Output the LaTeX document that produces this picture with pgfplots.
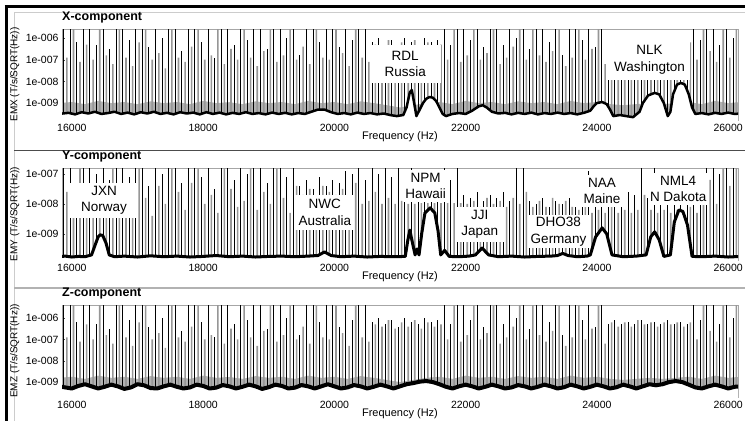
\documentclass[border=0pt]{standalone}
\usepackage{fontspec}
\setmainfont{Liberation Sans}
\usepackage{pgfplots}
\usepackage{pgfplotstable}
\pgfplotsset{compat=1.18}

% black spike lines (exponents of 10)
\pgfplotstableread{
f e
15875 -5.3
15975 -5.3
16075 -6.2
16175 -5.3
16275 -5.3
16375 -6.3
16475 -5.3
16575 -6.5
16675 -5.3
16775 -5.3
16875 -6.1
16975 -5.3
17075 -5.3
17175 -6.4
17275 -5.3
17375 -6.0
17475 -5.3
17575 -5.3
17675 -6.6
17775 -5.3
17875 -5.3
17975 -6.2
18075 -5.3
18175 -6.9
18275 -5.3
18375 -5.3
18475 -6.3
18575 -5.3
18675 -6.1
18775 -5.3
18875 -5.3
18975 -6.5
19075 -5.3
19175 -5.3
19275 -6.0
19375 -5.3
19475 -6.8
19575 -5.3
19675 -5.3
19775 -6.2
19875 -5.3
19975 -5.3
20075 -6.4
20175 -5.3
20275 -6.1
20375 -5.3
20475 -5.3
20575 -6.2
20675 -6.0
20775 -6.3
20875 -6.1
20975 -6.4
21075 -6.0
21175 -6.2
21275 -6.3
21375 -6.0
21475 -6.2
21575 -6.1
21675 -5.3
21775 -6.3
21875 -5.3
21975 -5.3
22075 -6.1
22175 -5.3
22275 -6.4
22375 -5.3
22475 -5.3
22575 -6.3
22675 -5.3
22775 -6.0
22875 -5.3
22975 -6.5
23075 -5.3
23175 -5.3
23275 -6.2
23375 -5.3
23475 -6.8
23575 -5.3
23675 -5.3
23775 -6.1
23875 -5.3
23975 -6.4
24075 -5.3
24175 -6.3
24275 -6.1
24375 -6.3
24475 -6.2
24575 -6.3
24675 -6.1
24775 -6.3
24875 -6.2
24975 -6.3
25075 -6.1
25175 -6.3
25275 -6.2
25375 -6.3
25475 -5.3
25575 -6.1
25675 -5.3
25775 -5.3
25875 -6.3
25975 -5.3
26075 -6.0
}\xzblack

% gray spike lines (exponents of 10)
\pgfplotstableread{
f e
15925 -6.9
16025 -5.3
16125 -7.1
16225 -6.3
16325 -7.0
16425 -5.3
16525 -6.8
16625 -7.2
16725 -5.3
16825 -6.9
16925 -7.3
17025 -6.2
17125 -5.3
17225 -7.0
17325 -6.7
17425 -7.4
17525 -5.3
17625 -6.9
17725 -7.1
17825 -6.4
17925 -5.3
18025 -7.0
18125 -6.8
18225 -5.3
18325 -7.2
18425 -6.5
18525 -7.0
18625 -5.3
18725 -6.9
18825 -7.3
18925 -6.6
19025 -5.3
19125 -7.1
19225 -6.8
19325 -5.3
19425 -7.0
19525 -6.4
19625 -7.2
19725 -5.3
19825 -6.9
19925 -7.0
20025 -5.3
20125 -6.7
20225 -7.3
20325 -5.3
20425 -6.9
20525 -7.1
20625 -6.3
20725 -6.4
20825 -6.1
20925 -6.5
21025 -6.2
21125 -6.4
21225 -6.1
21325 -6.5
21425 -6.2
21525 -6.4
21625 -6.3
21725 -7.0
21825 -5.3
21925 -7.1
22025 -6.8
22125 -5.3
22225 -7.0
22325 -6.7
22425 -5.3
22525 -7.2
22625 -6.9
22725 -6.4
22825 -5.3
22925 -7.0
23025 -5.3
23125 -6.8
23225 -7.1
23325 -6.6
23425 -5.3
23525 -7.3
23625 -6.9
23725 -5.3
23825 -7.0
23925 -6.5
24025 -5.3
24125 -7.2
24225 -6.2
24325 -6.4
24425 -6.2
24525 -6.4
24625 -6.1
24725 -6.3
24825 -6.2
24925 -6.4
25025 -6.2
25125 -6.3
25225 -6.2
25325 -6.4
25425 -6.2
25525 -7.0
25625 -5.3
25725 -6.6
25825 -7.1
25925 -5.3
26025 -6.9
26125 -5.3
}\xzgray

\pgfplotstableread{
f e
15875 -6.5
15975 -6.5
16075 -7.3
16175 -6.5
16275 -6.5
16375 -7.0
16475 -6.5
16575 -7.2
16675 -6.5
16775 -6.5
16875 -7.1
16975 -6.5
17075 -6.5
17175 -7.4
17275 -6.5
17375 -7.0
17475 -6.5
17575 -6.5
17675 -7.3
17775 -6.5
17875 -6.5
17975 -7.1
18075 -6.5
18175 -7.5
18275 -6.5
18375 -6.5
18475 -7.2
18575 -6.5
18675 -7.0
18775 -6.5
18875 -6.5
18975 -7.3
19075 -6.5
19175 -6.5
19275 -7.1
19375 -6.5
19475 -7.4
19575 -7.2
19675 -7.5
19775 -7.1
19875 -7.4
19975 -7.2
20075 -7.3
20175 -6.9
20275 -7.0
20375 -6.5
20475 -7.2
20575 -6.5
20675 -7.0
20775 -6.5
20875 -7.1
20975 -6.5
21075 -7.4
21175 -6.5
21275 -7.6
21375 -7.2
21475 -7.5
21575 -7.3
21675 -6.5
21775 -7.2
21875 -6.5
21975 -7.7
22075 -7.8
22175 -7.6
22275 -7.9
22375 -7.7
22475 -7.8
22575 -7.6
22675 -7.9
22775 -6.5
22875 -6.5
22975 -7.9
23075 -8.0
23175 -7.8
23275 -8.1
23375 -7.9
23475 -8.0
23575 -7.8
23675 -8.1
23775 -7.9
23875 -6.9
23975 -7.8
24075 -7.3
24175 -7.8
24275 -7.5
24375 -7.9
24475 -7.6
24575 -7.7
24675 -6.8
24775 -7.8
24875 -6.5
24975 -7.9
25075 -7.2
25175 -8.0
25275 -7.4
25375 -7.9
25475 -7.3
25575 -7.8
25675 -6.6
25775 -6.5
25875 -7.0
25975 -6.5
26075 -6.6
}\yblack

\pgfplotstableread{
f e
15925 -7.6
16025 -8.2
16125 -6.5
16225 -7.9
16325 -8.4
16425 -7.5
16525 -8.0
16625 -6.5
16725 -8.3
16825 -7.7
16925 -8.1
17025 -6.5
17125 -7.8
17225 -8.4
17325 -7.4
17425 -8.0
17525 -6.5
17625 -7.6
17725 -8.2
17825 -7.3
17925 -6.5
18025 -8.0
18125 -7.7
18225 -8.3
18325 -6.5
18425 -7.5
18525 -8.1
18625 -7.9
18725 -6.5
18825 -8.2
18925 -7.6
19025 -8.0
19125 -6.5
19225 -7.8
19325 -8.3
19425 -7.4
19525 -7.7
19625 -7.5
19725 -7.8
19825 -7.4
19925 -7.6
20025 -7.7
20125 -7.5
20225 -8.1
20325 -7.3
20425 -8.0
20525 -7.9
20625 -7.6
20725 -8.0
20825 -7.8
20925 -8.0
21025 -7.9
21125 -8.0
21225 -8.0
21325 -7.97
21425 -7.97
21525 -7.97
21625 -7.97
21725 -7.97
21825 -7.97
21925 -7.97
22025 -8.0
22125 -7.9
22225 -8.1
22325 -7.8
22425 -8.0
22525 -7.9
22625 -8.1
22725 -7.8
22825 -8.0
22925 -7.6
23025 -8.1
23125 -7.9
23225 -8.1
23325 -7.8
23425 -8.0
23525 -7.9
23625 -8.1
23725 -8.2
23825 -8.0
23925 -8.3
24025 -8.2
24125 -8.3
24225 -7.8
24325 -8.3
24425 -8.2
24525 -8.3
24625 -8.2
24725 -7.7
24825 -8.2
24925 -8.3
25025 -8.2
25125 -8.3
25225 -8.2
25325 -8.3
25425 -8.1
25525 -8.3
25625 -7.9
25725 -7.2
25825 -8.0
25925 -6.6
26025 -7.4
26125 -6.8
}\ygray

% noise floors (exponents of 10)
\pgfplotstableread{
f e
15700 -11
15800 -9.50
15950 -9.45
16050 -9.52
16150 -9.42
16250 -9.48
16350 -9.40
16450 -9.50
16550 -9.46
16650 -9.40
16750 -9.50
16850 -9.44
16950 -9.52
17050 -9.42
17150 -9.48
17250 -9.40
17350 -9.50
17450 -9.45
17550 -9.52
17650 -9.42
17750 -9.48
17850 -9.44
17950 -9.52
18050 -9.42
18150 -9.50
18250 -9.44
18350 -9.52
18450 -9.45
18550 -9.50
18650 -9.42
18750 -9.50
18850 -9.46
18950 -9.52
19050 -9.44
19150 -9.50
19250 -9.45
19350 -9.52
19450 -9.46
19550 -9.50
19650 -9.40
19750 -9.30
19850 -9.30
19950 -9.42
20050 -9.50
20150 -9.46
20250 -9.52
20350 -9.44
20450 -9.50
20550 -9.46
20650 -9.52
20750 -9.48
20850 -9.55
20950 -9.60
21050 -9.55
21100 -9.20
21150 -8.50
21180 -8.40
21210 -8.90
21250 -9.60
21300 -9.30
21350 -9.00
21400 -8.80
21450 -8.72
21500 -8.75
21550 -8.90
21600 -9.20
21650 -9.50
21700 -9.60
21800 -9.50
21900 -9.46
22000 -9.50
22100 -9.35
22200 -9.15
22260 -9.10
22320 -9.20
22400 -9.40
22500 -9.48
22600 -9.45
22700 -9.52
22800 -9.45
22900 -9.50
23000 -9.44
23100 -9.52
23200 -9.46
23300 -9.50
23400 -9.44
23500 -9.50
23600 -9.46
23700 -9.52
23800 -9.45
23900 -9.35
23950 -9.15
24000 -9.00
24080 -8.95
24150 -9.05
24200 -9.30
24250 -9.60
24350 -9.55
24450 -9.60
24550 -9.65
24650 -9.40
24700 -9.00
24780 -8.65
24880 -8.53
24950 -8.60
25020 -9.00
25080 -9.60
25120 -9.40
25160 -8.60
25220 -8.15
25280 -8.07
25340 -8.15
25400 -8.60
25450 -9.20
25500 -9.50
25600 -9.46
25700 -9.52
25800 -9.45
25900 -9.50
26000 -9.44
26100 -9.50
26200 -9.48
26300 -11
}\xfloor

\pgfplotstableread{
f e
15700 -11
15800 -9.76
15900 -9.74
16000 -9.77
16100 -9.75
16200 -9.76
16300 -9.70
16350 -9.40
16400 -9.10
16430 -9.03
16470 -9.05
16520 -9.30
16570 -9.70
16650 -9.76
16800 -9.74
17000 -9.77
17200 -9.73
17400 -9.76
17600 -9.74
17800 -9.77
18000 -9.75
18200 -9.72
18400 -9.76
18600 -9.74
18800 -9.77
19000 -9.75
19200 -9.74
19400 -9.76
19600 -9.74
19750 -9.72
19850 -9.60
19950 -9.72
20100 -9.76
20300 -9.74
20500 -9.77
20700 -9.75
20900 -9.76
21080 -9.75
21120 -9.20
21150 -8.87
21190 -9.30
21230 -9.70
21260 -9.50
21290 -9.70
21330 -9.00
21380 -8.30
21460 -8.13
21530 -8.30
21580 -8.90
21620 -9.70
21680 -9.55
21750 -9.75
21900 -9.76
22050 -9.74
22150 -9.70
22250 -9.47
22350 -9.70
22500 -9.76
22700 -9.74
22900 -9.77
23100 -9.75
23300 -9.74
23400 -9.72
23480 -9.65
23560 -9.72
23700 -9.76
23850 -9.74
23900 -9.70
23980 -9.10
24080 -8.80
24150 -9.00
24230 -9.70
24400 -9.76
24600 -9.74
24750 -9.70
24820 -9.10
24880 -8.93
24950 -9.20
25020 -9.75
25120 -9.70
25180 -8.60
25250 -8.20
25310 -8.25
25380 -8.70
25450 -9.75
25600 -9.76
25800 -9.74
26000 -9.77
26200 -9.75
26300 -11
}\yfloor

\pgfplotstableread{
f e
15700 -11
15800 -9.20
15900 -9.25
16000 -9.30
16100 -9.18
16200 -9.10
16300 -9.20
16400 -9.30
16500 -9.22
16600 -9.12
16700 -9.20
16800 -9.32
16900 -9.25
17000 -9.10
17100 -9.15
17200 -9.28
17300 -9.30
17400 -9.20
17500 -9.12
17600 -9.22
17700 -9.30
17800 -9.25
17900 -9.12
18000 -9.18
18100 -9.30
18200 -9.26
18300 -9.14
18400 -9.20
18500 -9.30
18600 -9.22
18700 -9.12
18800 -9.20
18900 -9.32
19000 -9.24
19100 -9.12
19200 -9.18
19300 -9.30
19400 -9.26
19500 -9.14
19600 -9.20
19700 -9.30
19800 -9.20
19900 -9.10
20000 -9.20
20100 -9.30
20200 -9.25
20300 -9.14
20400 -9.20
20500 -9.30
20600 -9.22
20700 -9.12
20800 -9.20
20900 -9.30
21000 -9.20
21100 -9.10
21200 -9.05
21300 -8.98
21400 -8.95
21500 -9.00
21600 -9.10
21700 -9.22
21800 -9.30
21900 -9.20
22000 -9.12
22100 -9.20
22200 -9.30
22300 -9.22
22400 -9.12
22500 -9.20
22600 -9.30
22700 -9.25
22800 -9.14
22900 -9.20
23000 -9.30
23100 -9.22
23200 -9.12
23300 -9.20
23400 -9.30
23500 -9.24
23600 -9.12
23700 -9.20
23800 -9.30
23900 -9.22
24000 -9.12
24100 -9.20
24200 -9.30
24300 -9.24
24400 -9.12
24500 -9.20
24600 -9.30
24700 -9.20
24800 -9.10
24900 -9.15
25000 -9.10
25100 -9.00
25200 -8.95
25300 -9.00
25400 -9.12
25500 -9.25
25600 -9.30
25700 -9.20
25800 -9.12
25900 -9.20
26000 -9.30
26100 -9.22
26200 -9.20
26300 -11
}\zfloor

% light gray band of small lines above the floor
\pgfplotstableread{
f e
15700 -11
15800 -9.00
16000 -8.95
16200 -9.05
16400 -8.90
16600 -9.00
16800 -8.95
17000 -9.05
17200 -8.92
17400 -9.00
17600 -8.95
17800 -9.05
18000 -8.90
18200 -9.00
18400 -8.96
18600 -9.05
18800 -8.92
19000 -9.00
19200 -8.95
19400 -9.05
19600 -8.90
19800 -9.00
20000 -8.95
20200 -9.05
20400 -8.92
20600 -9.00
20800 -9.10
21000 -9.20
21200 -9.10
21400 -9.00
21600 -8.95
21800 -9.05
22000 -8.90
22200 -9.00
22400 -8.95
22600 -9.05
22800 -8.92
23000 -9.00
23200 -8.95
23400 -9.05
23600 -8.90
23800 -9.00
24000 -8.95
24200 -9.05
24400 -9.10
24600 -9.05
24800 -9.00
25000 -9.05
25200 -9.00
25400 -8.95
25600 -9.05
25800 -8.90
26000 -9.00
26200 -8.95
26300 -11
}\band

\pgfplotsset{
 every axis/.append style={
  scale only axis, width=676pt, log origin y=infty,
  xmin=15850, xmax=26150,
  xtick={16000,18000,20000,22000,24000,26000},
  xticklabels={16000,18000,20000,22000,24000,26000},
  scaled x ticks=false,
  minor x tick num=4,
  ytick={1e-9,1e-8,1e-7,1e-6},
  yticklabels={1e-009,1e-008,1e-007,1e-006},
  yminorticks=false,
  tick pos=left, tick align=inside,
  major tick length=3pt, minor tick length=2pt,
  axis line style={draw=gray!70},
  tick style={black!70},
  tick label style={font=\fontsize{10.5}{12}\selectfont},
  xticklabel style={yshift=-0.5pt},
  xlabel={Frequency (Hz)},
  xlabel style={at={(axis description cs:0.5,0)}, anchor=center, yshift=-17pt, font=\fontsize{11}{12}\selectfont},
  ylabel style={at={(axis description cs:-0.07,0.5)}, anchor=center, font=\fontsize{10}{11}\selectfont},
  title style={at={(axis description cs:0,1)}, anchor=base west, yshift=3pt, inner sep=0pt, font=\bfseries\fontsize{12.5}{14}\selectfont},
 },
}
\tikzset{lab/.style={fill=white, align=center, inner sep=2pt, font=\fontsize{13.5}{16.5}\selectfont}}
\definecolor{spikegray}{RGB}{150,150,150}

\begin{document}
\begin{tikzpicture}
\useasboundingbox (0,0) rectangle (745pt,421pt);
% frame
\draw[gray!40, line width=1pt] (14pt,408pt) -- (745pt,408pt);
\draw[gray!40, line width=1pt] (14pt,408pt) -- (14pt,0pt);
\draw[gray!60!black, line width=0.8pt] (14pt,271pt) -- (745pt,271pt);
\draw[gray!60, line width=1.5pt] (14pt,133pt) -- (745pt,133pt);
\draw[line width=3pt] (4.5pt,414pt) -- (745pt,414pt);
\draw[line width=3pt] (6pt,415.5pt) -- (6pt,0pt);

% X component
\begin{axis}[ymode=log, at={(62pt,301pt)}, anchor=south west, height=91pt,
  ymin=1.66e-10, ymax=2.6e-6, title={X-component}, ylabel={EMX (T/s/SQRT(Hz))}]
\addplot[fill=black!30, draw=none] table[x=f, y expr={pow(10,\thisrow{e})}] {\band};
\addplot[ybar, bar width=1.6pt, bar shift=0pt, fill=spikegray, draw=none] table[x=f, y expr={pow(10,\thisrow{e})}] {\xzgray};
\addplot[ycomb, draw=black, line width=1pt] table[x=f, y expr={pow(10,\thisrow{e})}] {\xzblack};
\addplot[fill=white, draw=black, line width=2.5pt, line join=round] table[x=f, y expr={pow(10,\thisrow{e})}] {\xfloor};
\node[lab, minimum width=71pt, minimum height=38pt] at (axis cs:21080,6.3e-8) {RDL\\Russia};
\node[lab, minimum width=82pt, minimum height=40pt] at (axis cs:24800,9.8e-8) {NLK\\Washington};
\end{axis}

% Y component
\begin{axis}[ymode=log, at={(62pt,161pt)}, anchor=south west, height=92pt,
  ymin=1.35e-10, ymax=1.58e-7, title={Y-component}, ylabel={EMY (T/s/SQRT(Hz))}]
\addplot[ybar, bar width=1.6pt, bar shift=0pt, fill=spikegray, draw=none] table[x=f, y expr={pow(10,\thisrow{e})}] {\ygray};
\addplot[ycomb, draw=black, line width=1pt] table[x=f, y expr={pow(10,\thisrow{e})}] {\yblack};
\addplot[fill=white, draw=black, line width=3pt, line join=round] table[x=f, y expr={pow(10,\thisrow{e})}] {\yfloor};
\node[lab, minimum width=68pt, minimum height=35pt] at (axis cs:16490,1.32e-8) {JXN\\Norway};
\node[lab, minimum width=59pt, minimum height=35pt] at (axis cs:19854,5.2e-9) {NWC\\Australia};
\node[lab, minimum width=35pt, minimum height=32pt] at (axis cs:21392,4.0e-8) {NPM\\Hawaii};
\node[lab, minimum width=48pt, minimum height=35pt] at (axis cs:22215,2.1e-9) {JJI\\Japan};
\node[lab, minimum width=62pt, minimum height=33pt] at (axis cs:23415,1.2e-9) {DHO38\\Germany};
\node[lab, minimum width=40pt, minimum height=32pt] at (axis cs:24077,2.7e-8) {NAA\\Maine};
\node[lab, minimum width=61pt, minimum height=32pt] at (axis cs:25238,3.2e-8) {NML4\\N Dakota};
\end{axis}

% Z component
\begin{axis}[ymode=log, at={(62pt,24pt)}, anchor=south west, height=92pt,
  ymin=2e-10, ymax=4.1e-6, title={Z-component}, ylabel={EMZ (T/s/SQRT(Hz))}]
\addplot[fill=black!30, draw=none] table[x=f, y expr={pow(10,\thisrow{e}+0.2)}] {\band};
\addplot[ybar, bar width=1.6pt, bar shift=0pt, fill=spikegray, draw=none] table[x=f, y expr={pow(10,\thisrow{e})}] {\xzgray};
\addplot[ycomb, draw=black, line width=1pt] table[x=f, y expr={pow(10,\thisrow{e})}] {\xzblack};
\addplot[fill=white, draw=black, line width=4pt, line join=round] table[x=f, y expr={pow(10,\thisrow{e})}] {\zfloor};
\end{axis}
\end{tikzpicture}
\end{document}
